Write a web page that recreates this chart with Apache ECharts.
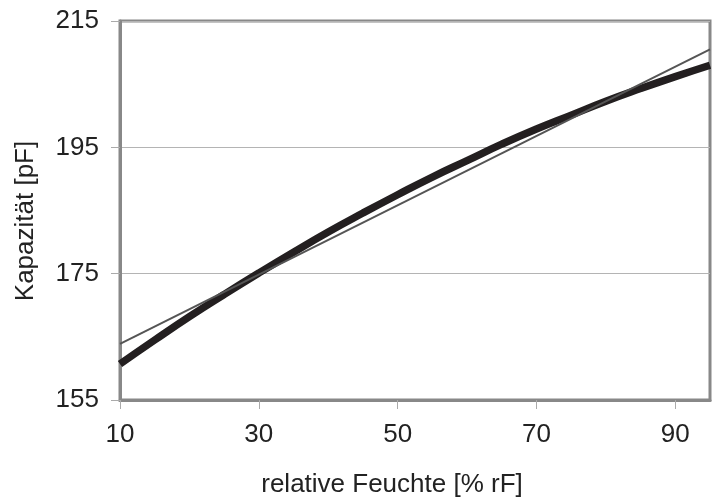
<!DOCTYPE html>
<html>
<head>
<meta charset="utf-8">
<script src="https://cdn.jsdelivr.net/npm/echarts@6/dist/echarts.min.js"></script>
<style>html,body{margin:0;padding:0;background:#fff}#c{width:717px;height:497px}</style>
</head>
<body>
<div id="c"></div>
<script>
var humidity = [10,15,20,25,30,35,40,45,50,55,60,65,70,75,80,85,90,95];
var capacitance = [160.7,164.5,168.2,171.7,175.1,178.4,181.6,184.6,187.5,190.3,192.9,195.5,197.9,200.1,202.3,204.3,206.2,208.0];
var fitX = [10,95];
var fitY = [163.9,210.5];
var xTicks = [10,30,50,70,90];
var yTicks = [155,175,195,215];

var chart = echarts.init(document.getElementById('c'));
var font = 'Liberation Sans, Arial, sans-serif';
chart.setOption({
  animation:false,
  grid:{left:120,right:7,top:21,bottom:97,outerBoundsMode:'none',containLabel:false,show:true,borderColor:'#888',borderWidth:3,backgroundColor:'#fff'},
  xAxis:{type:'value',min:10,max:95,interval:20,
    name:'relative Feuchte [% rF]',nameLocation:'middle',nameGap:72,
    nameTextStyle:{fontFamily:font,fontSize:26,color:'#222',padding:[0,46,0,0]},
    axisLine:{show:true,lineStyle:{color:'#888',width:3}},
    axisTick:{show:true,inside:false,length:9,lineStyle:{color:'#aaa',width:1}},
    axisLabel:{fontFamily:font,fontSize:26,color:'#222',margin:22,showMaxLabel:false,
      formatter:function(v){return xTicks.indexOf(v)>=0?String(v):'';}},
    splitLine:{show:false}},
  yAxis:{type:'value',min:155,max:215,interval:20,
    name:'Kapazität [pF]',nameLocation:'middle',nameGap:81,
    nameTextStyle:{fontFamily:font,fontSize:26,color:'#222',padding:[0,21,0,0]},
    axisLine:{show:true,lineStyle:{color:'#888',width:3}},
    axisTick:{show:true,inside:false,length:9,lineStyle:{color:'#aaa',width:1}},
    axisLabel:{fontFamily:font,fontSize:26,color:'#222',margin:21,
      formatter:function(v){return yTicks.indexOf(v)>=0?String(v):'';}},
    splitLine:{show:true,lineStyle:{color:'#b4b4b4',width:1}}},
  series:[
    {type:'line',data:humidity.map(function(x,i){return [x,capacitance[i]];}),
      smooth:true,showSymbol:false,lineStyle:{color:'#231f20',width:7.5},z:3},
    {type:'line',data:fitX.map(function(x,i){return [x,fitY[i]];}),
      showSymbol:false,lineStyle:{color:'#555',width:2},z:4}
  ]
});
</script>
</body>
</html>
